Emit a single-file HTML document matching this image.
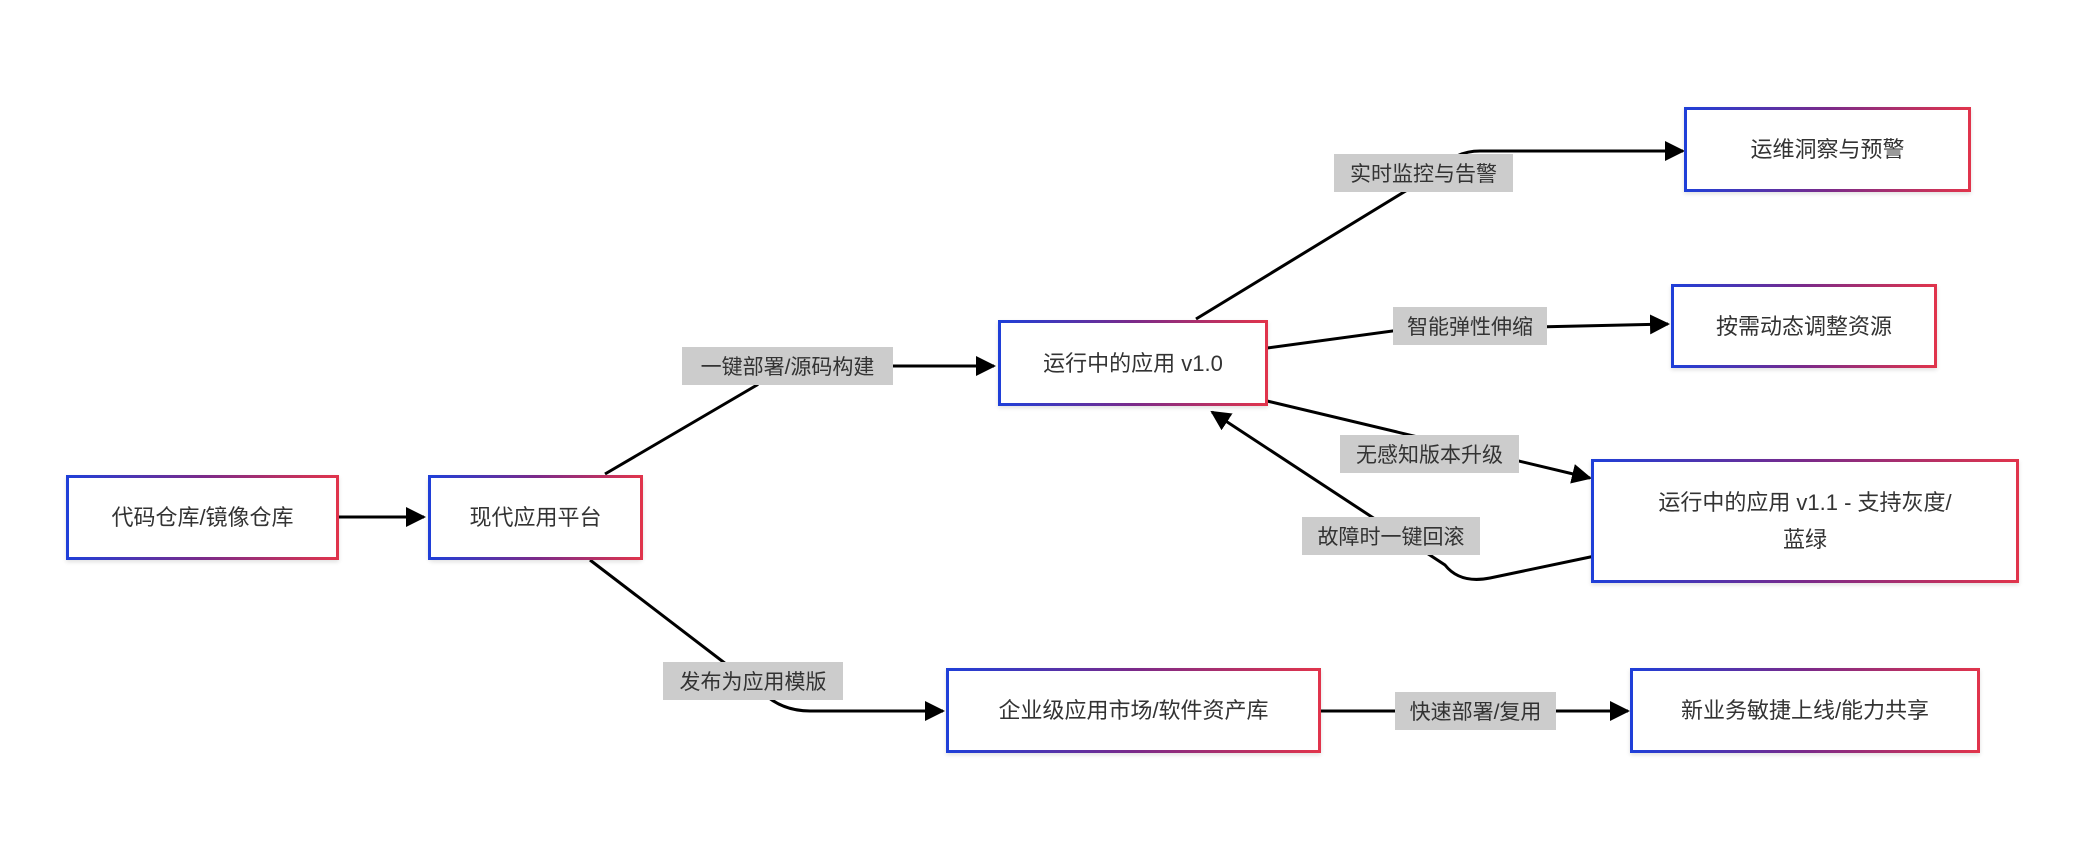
<!DOCTYPE html>
<html><head><meta charset="utf-8"><style>
body{margin:0;width:2084px;height:850px;background:#fff;position:relative;overflow:hidden;font-family:"Liberation Sans","Noto Sans CJK SC",sans-serif;}
.n{position:absolute;box-sizing:border-box;border:3px solid;border-image:linear-gradient(to right,#1f3fd8,#7a2a8a,#e0344c) 1;background:#fff;display:flex;align-items:center;justify-content:center;text-align:center;font-size:22px;color:#333;line-height:37px;box-shadow:0 2px 4px rgba(0,0,0,0.12);}
.l{position:absolute;background:#cccccc;font-size:21px;color:#333;display:flex;align-items:center;justify-content:center;white-space:nowrap;}
svg{position:absolute;left:0;top:0;}
</style></head><body>
<svg width="2084" height="850">
<defs>
<marker id="b" markerWidth="20" markerHeight="20" refX="18" refY="10" orient="auto" markerUnits="userSpaceOnUse" viewBox="0 0 20 20"><path d="M0,0 L20,10 L0,20z" fill="#000"/></marker></defs>
<g stroke="#000" stroke-width="3" fill="none" marker-end="url(#b)">
<path d="M338,517 L424,517"/>
<path d="M605,474 L757,385 Q775,366 800,366 L994,366"/>
<path d="M1196,319 L1440,170 Q1455,151 1480,151 L1683,151"/>
<path d="M1267,348 L1400,330 L1668,324"/>
<path d="M1267,401 L1590,478"/>
<path d="M1595,556 L1490,578 Q1460,584 1445,565 L1212,412"/>
<path d="M590,560 L760,690 Q780,711 810,711 L943,711"/>
<path d="M1321,711 L1628,711"/>
</g>
</svg>
<div class="n" style="left:66px;top:475px;width:273px;height:85px">代码仓库/镜像仓库</div>
<div class="n" style="left:428px;top:475px;width:215px;height:85px;border-radius:5px">现代应用平台</div>
<div class="n" style="left:998px;top:320px;width:270px;height:86px">运行中的应用 v1.0</div>
<div class="n" style="left:1684px;top:107px;width:287px;height:85px">运维洞察与预警</div>
<div class="n" style="left:1671px;top:284px;width:266px;height:84px">按需动态调整资源</div>
<div class="n" style="left:1591px;top:459px;width:428px;height:124px;padding:0 20px">运行中的应用 v1.1 - 支持灰度/<br>蓝绿</div>
<div class="n" style="left:946px;top:668px;width:375px;height:85px">企业级应用市场/软件资产库</div>
<div class="n" style="left:1630px;top:668px;width:350px;height:85px">新业务敏捷上线/能力共享</div>
<div class="l" style="left:682px;top:347px;width:211px;height:38px">一键部署/源码构建</div>
<div class="l" style="left:663px;top:662px;width:180px;height:38px">发布为应用模版</div>
<div class="l" style="left:1334px;top:154px;width:179px;height:38px">实时监控与告警</div>
<div class="l" style="left:1393px;top:307px;width:154px;height:38px">智能弹性伸缩</div>
<div class="l" style="left:1340px;top:435px;width:179px;height:38px">无感知版本升级</div>
<div class="l" style="left:1302px;top:517px;width:178px;height:38px">故障时一键回滚</div>
<div class="l" style="left:1395px;top:692px;width:161px;height:38px">快速部署/复用</div>
</body></html>
